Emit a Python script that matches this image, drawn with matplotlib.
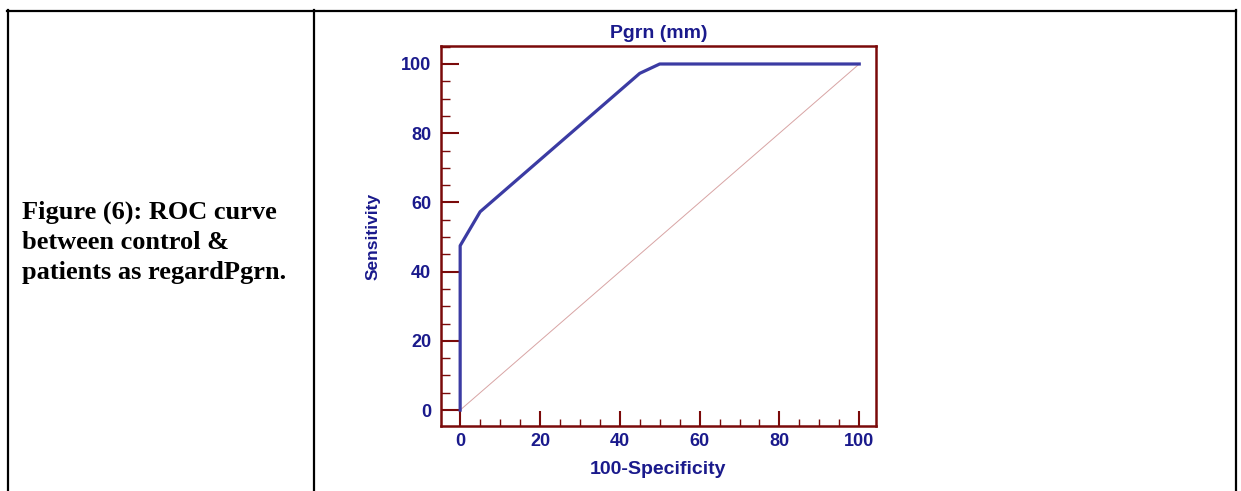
import numpy as np
import matplotlib.pyplot as plt
from matplotlib.lines import Line2D
from matplotlib.ticker import MultipleLocator

# ROC curve points (100-Specificity, Sensitivity)
fpr = [0, 0, 5, 45, 50, 100]
tpr = [0, 47.5, 57.3, 97.3, 100, 100]
ref_line = [0, 100]

caption = "Figure (6): ROC curve\nbetween control &\npatients as regardPgrn."
title = "Pgrn (mm)"
xlab = "100-Specificity"
ylab = "Sensitivity"
ticks = [0, 20, 40, 60, 80, 100]

axis_col = "#7a0a0a"
text_col = "#1a1a8c"
curve_col = "#3b3ba3"

W, H = 1241, 491
fig = plt.figure(figsize=(W/100, H/100), dpi=100)

# table borders
def hline(x0, x1, y):
    fig.add_artist(Line2D([x0/W, x1/W], [1-y/H, 1-y/H], color="black", lw=1.6))
def vline(x, y0, y1):
    fig.add_artist(Line2D([x/W, x/W], [1-y0/H, 1-y1/H], color="black", lw=1.6))

hline(7, 1236, 10.5)
vline(7.5, 10, H)
vline(313.5, 10, H)
vline(1235.5, 10, H)

fig.text(22/W, 1-242/H, caption, ha="left", va="center",
         fontfamily="Liberation Serif", fontweight="bold", fontsize=19,
         linespacing=1.38, color="black")

ax = fig.add_axes([441/W, 1-426/H, 435/W, 380/H])
ax.plot(ref_line, ref_line, color="#d8a4a4", lw=0.7, zorder=1)
ax.plot(fpr, tpr, color=curve_col, lw=2.3, zorder=2, solid_joinstyle="round")

ax.set_xlim(-4.8, 104.2)
ax.set_ylim(-4.6, 105.2)
ax.set_xticks(ticks)
ax.set_yticks(ticks)
ax.xaxis.set_minor_locator(MultipleLocator(5))
ax.yaxis.set_minor_locator(MultipleLocator(5))

for s in ax.spines.values():
    s.set_color(axis_col)
    s.set_linewidth(1.8)

ax.tick_params(axis="y", which="major", direction="in", length=13, width=1.5,
               color=axis_col, labelcolor=text_col, pad=7)
ax.tick_params(axis="y", which="minor", direction="in", length=6.5, width=1.0,
               color=axis_col)
ax.tick_params(axis="x", which="major", direction="in", length=11, width=1.5,
               color=axis_col, labelcolor=text_col, pad=5)
ax.tick_params(axis="x", which="minor", direction="in", length=5.4, width=1.0,
               color=axis_col)

for lab in ax.get_xticklabels() + ax.get_yticklabels():
    lab.set_fontfamily("Liberation Sans")
    lab.set_fontweight("bold")
    lab.set_fontsize(13)

font = dict(fontfamily="Liberation Sans", fontweight="bold", color=text_col)
ax.set_title(title, pad=6, fontsize=14, **font)
ax.set_xlabel(xlab, labelpad=8, fontsize=14, **font)
ax.set_ylabel(ylab, labelpad=15, fontsize=12.5, **font)

fig.savefig("out.png", dpi=100)
